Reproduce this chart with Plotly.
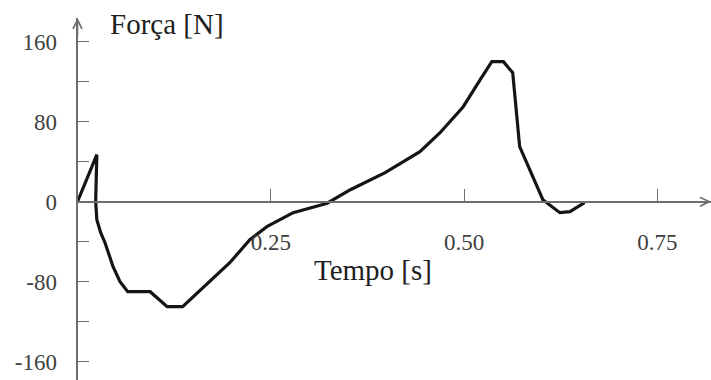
import plotly.graph_objects as go

# Data
tempo_s = [0.0, 0.025, 0.0235, 0.025, 0.030, 0.0356, 0.046, 0.055, 0.065, 0.094, 0.116, 0.136,
           0.197, 0.223, 0.245, 0.279, 0.323, 0.353, 0.398, 0.443, 0.469, 0.499,
           0.521, 0.536, 0.551, 0.563, 0.572, 0.602, 0.624, 0.637, 0.656]
forca_n = [0, 47, 0, -18, -31, -41, -65, -80, -90, -90, -105, -105,
           -61, -38, -25, -11, -1.5, 12, 29, 50, 69, 95,
           122, 140, 140, 129, 55, 2, -11, -10, -1]

x_tickvals = [0.25, 0.50, 0.75]
x_ticktext = ["0.25", "0.50", "0.75"]
y_tickvals = [-160, -120, -80, -40, 0, 40, 80, 120, 160]
y_ticktext = ["-160", "", "-80", "", "0", "", "80", "", "160"]

W, H = 711, 380
x0_px = 77.5
px_per_s = 773.0
y0_px = 201.7
top_px = 18.0

x_max = (W - x0_px) / px_per_s
y_min = -(H - y0_px)
y_max = y0_px - top_px

axis_col = "#6e6e6e"
font_family = "Liberation Serif, Times New Roman, serif"

fig = go.Figure()
fig.add_trace(go.Scatter(x=tempo_s, y=forca_n, mode="lines",
                         line=dict(color="#151515", width=3.2),
                         hoverinfo="skip", showlegend=False))

fig.update_layout(
    width=W, height=H,
    margin=dict(l=0, r=0, t=0, b=0),
    paper_bgcolor="white", plot_bgcolor="white",
    showlegend=False,
    xaxis=dict(
        domain=[x0_px / W, 1], range=[0, x_max],
        anchor="free", position=(H - y0_px) / H,
        showgrid=False, zeroline=False,
        showline=True, linecolor=axis_col, linewidth=2,
        ticks="inside", ticklen=12, tickwidth=1.3, tickcolor=axis_col,
        tickvals=x_tickvals, ticktext=x_ticktext,
        ticklabelstandoff=20,
        tickfont=dict(family=font_family, size=23, color="#404040"),
    ),
    yaxis=dict(
        domain=[0, (H - top_px) / H], range=[y_min, y_max],
        anchor="x",
        showgrid=False, zeroline=False,
        showline=True, linecolor=axis_col, linewidth=2,
        ticks="inside", ticklen=11, tickwidth=1.3, tickcolor=axis_col,
        tickvals=y_tickvals, ticktext=y_ticktext,
        ticklabelstandoff=14,
        tickfont=dict(family=font_family, size=23, color="#404040"),
    ),
    annotations=[
        dict(x=x_max, y=0, ax=x_max - 0.03, ay=0, xref="x", yref="y",
             axref="x", ayref="y", text="", showarrow=True,
             arrowhead=5, arrowsize=1.1, arrowwidth=1.6, arrowcolor=axis_col),
        dict(x=0, y=y_max, ax=0, ay=y_max - 20, xref="x", yref="y",
             axref="x", ayref="y", text="", showarrow=True,
             arrowhead=5, arrowsize=1.1, arrowwidth=1.6, arrowcolor=axis_col),
        dict(x=108 / W, y=1 - 24 / H, xref="paper", yref="paper",
             xanchor="left", yanchor="middle", text="Força [N]", showarrow=False,
             font=dict(family=font_family, size=29, color="#1e1e1e")),
        dict(x=312 / W, y=1 - 270 / H, xref="paper", yref="paper",
             xanchor="left", yanchor="middle", text="Tempo [s]", showarrow=False,
             font=dict(family=font_family, size=29, color="#1e1e1e")),
    ],
)

fig.write_html("out.html")
